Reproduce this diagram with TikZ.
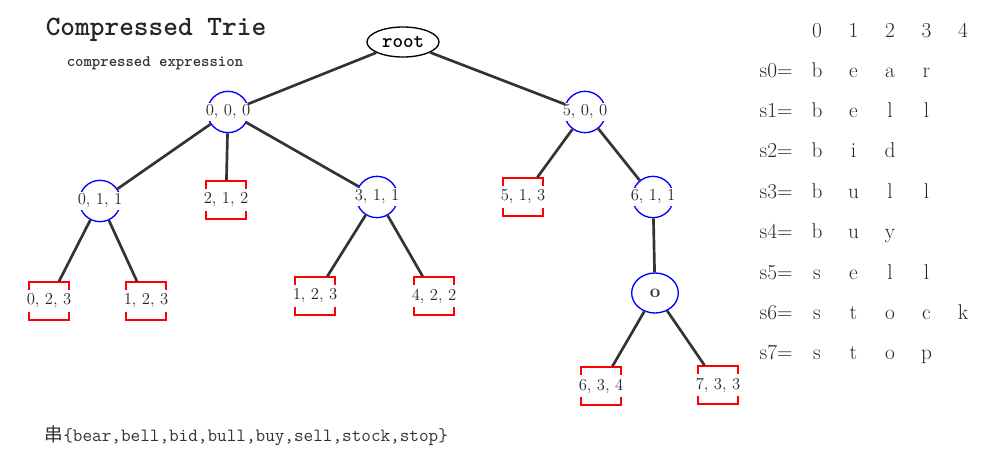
\documentclass[tikz,border=0pt]{standalone}
\usepackage{fontspec}
\newfontfamily\cjk{Noto Sans CJK SC}
\usetikzlibrary{shapes.geometric}
\begin{document}
\begin{tikzpicture}[x=0.75pt,y=-0.75pt,
    edge/.style={black!80,line width=2pt},
    cover/.style={fill=white,inner sep=0pt,minimum height=13.5pt,minimum width=36pt,font=\fontsize{12.5}{14}\selectfont,text=black!85},
    inner/.style={circle,draw=blue,line width=1pt,minimum size=31pt,inner sep=0pt,label={[cover]center:#1}},
    leaf/.style={rectangle,draw=red,line width=1pt,minimum width=30pt,minimum height=28.5pt,inner sep=0pt,label={[cover,minimum height=16pt]center:#1}},
    tab/.style={font=\fontsize{16}{19}\selectfont,text=black!85,anchor=base}]
        \useasboundingbox (0,0) rectangle (1004,454);
        \node[font=\fontsize{21}{24}\ttfamily\bfseries,text=black!85] (title) at (156,30) {Compressed Trie};
        \node[font=\fontsize{12}{14}\ttfamily\bfseries,text=black!80] (subtitle) at (155,63) {compressed expression};
        % tree
        \node[ellipse,draw,line width=1pt,minimum width=54pt,minimum height=22.5pt,inner sep=0pt,font=\fontsize{15}{17}\ttfamily\bfseries] (root) at (403,42) {root};
        \node[inner={0, 0, 0}] (n000) at (228,112) {};
        \node[inner={5, 0, 0}] (n500) at (585,112) {};
        \node[inner={0, 1, 1}] (n011) at (100,201) {};
        \node[leaf={2, 1, 2}] (n212) at (226,200) {};
        \node[inner={3, 1, 1}] (n311) at (377,197) {};
        \node[leaf={5, 1, 3}] (n513) at (523,197) {};
        \node[inner={6, 1, 1}] (n611) at (653,197) {};
        \node[leaf={0, 2, 3}] (n023) at (49,301) {};
        \node[leaf={1, 2, 3}] (n123) at (146,301) {};
        \node[leaf={1, 2, 3}] (n123b) at (315,296) {};
        \node[leaf={4, 2, 2}] (n422) at (434,296) {};
        \node[ellipse,draw=blue,line width=1pt,minimum width=35pt,minimum height=30pt,inner sep=0pt,font=\fontsize{14}{16}\bfseries,text=black!80] (no) at (655,293) {o};
        \node[leaf={6, 3, 4}] (n634) at (601,386) {};
        \node[leaf={7, 3, 3}] (n733) at (718,385) {};
        \draw[edge] (root)--(n000);
        \draw[edge] (root)--(n500);
        \draw[edge] (n000)--(n011);
        \draw[edge] (n000)--(n212);
        \draw[edge] (n000)--(n311);
        \draw[edge] (n011)--(n023);
        \draw[edge] (n011)--(n123);
        \draw[edge] (n311)--(n123b);
        \draw[edge] (n311)--(n422);
        \draw[edge] (n500)--(n513);
        \draw[edge] (n500)--(n611);
        \draw[edge] (n611)--(no);
        \draw[edge] (no)--(n634);
        \draw[edge] (no)--(n733);
        % strings
        \foreach \i in {0,...,4}
            \node[tab] (h\i) at (817+36.5*\i,37) {\i};
        \foreach \row [count=\r from 0] in {{b,e,a,r},{b,e,l,l},{b,i,d},{b,u,l,l},{b,u,y},{s,e,l,l},{s,t,o,c,k},{s,t,o,p}}{
            \node[tab,anchor=base west] (s\r) at (755,77+40.4*\r) {s\r=};
            \foreach \c [count=\k from 0] in \row
                \node[tab] (c\r\k) at (817+36.5*\k,77+40.4*\r) {\c};
        }
        \node[anchor=west,font=\fontsize{14}{16}\ttfamily,text=black!80] (strs) at (40,436) {{\cjk 串}\{bear,bell,bid,bull,buy,sell,stock,stop\}};
    \end{tikzpicture}
\end{document}
